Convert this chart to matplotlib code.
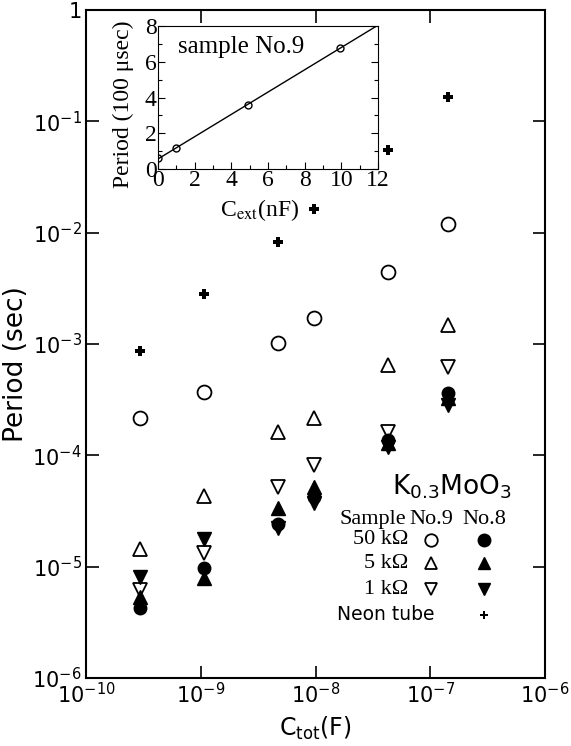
import numpy as np
import matplotlib
matplotlib.use("Agg")
import matplotlib.pyplot as plt
from matplotlib.ticker import FixedLocator, FuncFormatter, MultipleLocator, NullLocator

# total capacitance of each measurement (F)
c_tot = [2.95e-10, 1.07e-9, 4.7e-9, 9.7e-9, 4.3e-8, 1.43e-7]

# sample No.9 (open symbols), period in sec
no9_50k = [2.16e-4, 3.68e-4, 1.02e-3, 1.71e-3, 4.46e-3, 1.2e-2]
no9_5k = [1.44e-5, 4.31e-5, 1.63e-4, 2.16e-4, 6.5e-4, 1.48e-3]
no9_1k = [6.17e-6, 1.33e-5, 5.2e-5, 8.2e-5, 1.63e-4, 6.25e-4]

# sample No.8 (filled symbols)
no8_50k = [4.25e-6, 9.7e-6, 2.4e-5, 4.2e-5, 1.37e-4, 3.63e-4]
no8_5k = [5.33e-6, 7.9e-6, 3.36e-5, 5.2e-5, 1.29e-4, 3.27e-4]
no8_1k = [8.07e-6, 1.77e-5, 2.22e-5, 3.7e-5, 1.19e-4, 2.83e-4]

# neon tube oscillator
neon = [8.7e-4, 2.81e-3, 8.3e-3, 1.63e-2, 5.5e-2, 0.166]

# inset: sample No.9, period (100 usec) vs external capacitor (nF)
c_ext = [0, 1, 4.9, 9.9]
period_ext = [0.6, 1.15, 3.6, 6.75]

SANS = "DejaVu Sans"
SERIF = "Liberation Serif"

fig = plt.figure(figsize=(5.71, 7.46), dpi=100)
ax = fig.add_axes([0.1506, 0.0912, 0.8039, 0.8954])

ax.set_xscale("log")
ax.set_yscale("log")
ax.set_xlim(1e-10, 1e-6)
ax.set_ylim(1e-6, 1)

open_kw = dict(ls="none", mfc="white", mec="black", mew=1.3, color="black")
fill_kw = dict(ls="none", color="black")

ax.plot(c_tot, no9_50k, marker="o", ms=10, **open_kw)
ax.plot(c_tot, no9_5k, marker="^", ms=10, **open_kw)
ax.plot(c_tot, no9_1k, marker="v", ms=10, **open_kw)
ax.plot(c_tot, no8_50k, marker="o", ms=9, **fill_kw)
ax.plot(c_tot, no8_5k, marker="^", ms=10, **fill_kw)
ax.plot(c_tot, no8_1k, marker="v", ms=10, **fill_kw)
ax.plot(c_tot, neon, marker="P", ms=7, mew=0, **fill_kw)

def dec_label(v, pos):
    e = int(round(np.log10(v)))
    return "1" if e == 0 else r"$10^{%d}$" % e

ax.xaxis.set_major_locator(FixedLocator([1e-10, 1e-9, 1e-8, 1e-7, 1e-6]))
ax.yaxis.set_major_locator(FixedLocator([1e-6, 1e-5, 1e-4, 1e-3, 1e-2, 1e-1, 1]))
ax.xaxis.set_minor_locator(NullLocator())
ax.yaxis.set_minor_locator(NullLocator())
ax.xaxis.set_major_formatter(FuncFormatter(dec_label))
ax.yaxis.set_major_formatter(FuncFormatter(dec_label))
ax.tick_params(direction="in", length=9, width=1.2, top=True, right=True,
               labelsize=15, pad=3)
for s in ax.spines.values():
    s.set_linewidth(1.5)

ax.set_ylabel("Period (sec)", fontsize=19, family=SANS)
ax.yaxis.set_label_coords(-0.125, 0.47)
ax.set_xlabel(r"C$_{\rm tot}$(F)", fontsize=17, family=SANS)
ax.xaxis.set_label_coords(0.5, -0.055)

# key in the lower right corner
ax.text(0.928, 0.287, r"K$_{0.3}$MoO$_3$", transform=ax.transAxes,
        ha="right", va="center", fontsize=19, family=SANS)
ax.text(0.697, 0.2365, "Sample", transform=ax.transAxes,
        ha="right", va="center", fontsize=16, family=SERIF)
ax.text(0.7516, 0.2365, "No.9", transform=ax.transAxes,
        ha="center", va="center", fontsize=16, family=SERIF)
ax.text(0.8671, 0.2365, "No.8", transform=ax.transAxes,
        ha="center", va="center", fontsize=16, family=SERIF)

key_rows = [("50 k\u03a9", "o", 0.2066), ("5 k\u03a9", "^", 0.1717),
            ("1 k\u03a9", "v", 0.1328)]
for label, m, yk in key_rows:
    ax.text(0.7015, yk, label, transform=ax.transAxes,
            ha="right", va="center", fontsize=16, family=SERIF)
    ax.plot([0.7516], [yk], marker=m, ms=9, transform=ax.transAxes,
            clip_on=False, **open_kw)
    ax.plot([0.8671], [yk], marker=m, ms=9, transform=ax.transAxes,
            clip_on=False, **fill_kw)
ax.text(0.7603, 0.0943, "Neon tube", transform=ax.transAxes,
        ha="right", va="center", fontsize=13.5, family=SANS)
ax.plot([0.8671], [0.0943], marker="P", ms=6, mew=0, transform=ax.transAxes,
        clip_on=False, **fill_kw)

# inset: linear dependence on the external capacitor
axi = fig.add_axes([0.2767, 0.7735, 0.3853, 0.1916])
axi.plot(c_ext, period_ext, ls="none", marker="o", ms=5, mfc="white",
         mec="black", mew=1.0)
k, b = np.polyfit(c_ext, period_ext, 1)
xfit = np.array([0, 12])
axi.plot(xfit, k * xfit + b, color="black", lw=1.0)
axi.set_xlim(0, 12)
axi.set_ylim(0, 8)
axi.xaxis.set_major_locator(MultipleLocator(2))
axi.xaxis.set_minor_locator(MultipleLocator(1))
axi.yaxis.set_major_locator(MultipleLocator(2))
axi.yaxis.set_minor_locator(MultipleLocator(1))
axi.tick_params(which="both", direction="in", right=True, width=0.8,
                labelsize=17, pad=1)
axi.tick_params(which="major", length=5)
axi.tick_params(which="minor", length=3)
for lab in axi.get_xticklabels() + axi.get_yticklabels():
    lab.set_family(SERIF)
axi.set_ylabel("Period (100 \u03bcsec)", fontsize=17, family=SERIF)
axi.yaxis.set_label_coords(-0.11, 0.45)
axi.set_xlabel(r"C$_{\rm ext}$(nF)", fontsize=17, family=SERIF,
               math_fontfamily="stix")
axi.xaxis.set_label_coords(0.46, -0.2)
axi.text(0.09, 0.85, "sample No.9", transform=axi.transAxes,
         ha="left", va="center", fontsize=18, family=SERIF)

fig.savefig("out.png", dpi=100)
